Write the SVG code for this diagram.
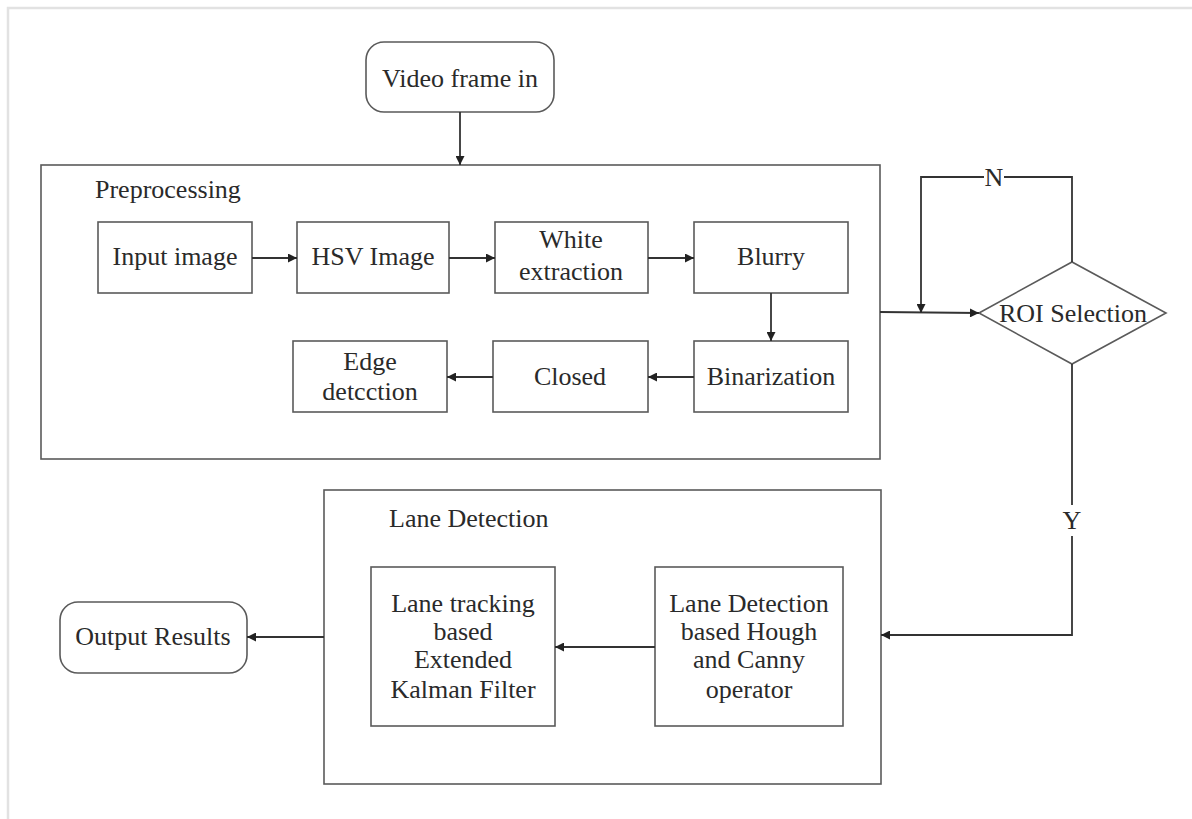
<svg xmlns="http://www.w3.org/2000/svg" width="1192" height="819" viewBox="0 0 1192 819">
<defs>
<style>
.box{fill:#fff;stroke:#5a5a5a;stroke-width:1.6}
.frame{fill:none;stroke:#5a5a5a;stroke-width:1.6}
.t{font-family:'Liberation Serif','DejaVu Serif',serif;font-size:26px;fill:#2a2a2a;text-anchor:middle}
.tl{font-family:'Liberation Serif','DejaVu Serif',serif;font-size:26px;fill:#2a2a2a}
.c{fill:none;stroke:#333;stroke-width:1.8}
</style>
<marker id="ah" viewBox="0 0 10 10" refX="10" refY="5" markerWidth="11" markerHeight="9" markerUnits="userSpaceOnUse" orient="auto">
<path d="M0,0 L10,5 L0,10 z" fill="#222"/>
</marker>
</defs>
<rect x="0" y="0" width="1192" height="819" fill="#fff"/>
<path d="M8,819 V8 H1192" fill="none" stroke="#e2e2e2" stroke-width="2.5"/>

<g id="video-frame-in">
<rect class="box" x="366" y="42" width="188" height="70" rx="18"/>
<text class="t" x="460" y="87">Video frame in</text>
</g>

<g id="preprocessing">
<rect class="frame" x="41" y="165" width="839" height="294"/>
<text class="tl" x="95" y="198">Preprocessing</text>
</g>
<g id="input-image">
<rect class="box" x="98" y="222" width="154" height="71"/>
<text class="t" x="175" y="265">Input image</text>
</g>
<g id="hsv-image">
<rect class="box" x="297" y="222" width="152" height="71"/>
<text class="t" x="373" y="265">HSV Image</text>
</g>
<g id="white-extraction">
<rect class="box" x="495" y="222" width="153" height="71"/>
<text class="t" x="571" y="248">White</text>
<text class="t" x="571" y="280">extraction</text>
</g>
<g id="blurry">
<rect class="box" x="694" y="222" width="154" height="71"/>
<text class="t" x="771" y="265">Blurry</text>
</g>
<g id="binarization">
<rect class="box" x="694" y="341" width="154" height="71"/>
<text class="t" x="771" y="385">Binarization</text>
</g>
<g id="closed">
<rect class="box" x="493" y="341" width="155" height="71"/>
<text class="t" x="570" y="385">Closed</text>
</g>
<g id="edge-detection">
<rect class="box" x="293" y="341" width="154" height="71"/>
<text class="t" x="370" y="370">Edge</text>
<text class="t" x="370" y="400">detcction</text>
</g>

<g id="roi-selection">
<polygon class="box" points="979,313 1072,262 1166,313 1072,364"/>
<text class="t" x="1073" y="322">ROI Selection</text>
</g>

<g id="lane-detection-group">
<rect class="frame" x="324" y="490" width="557" height="294"/>
<text class="tl" x="389" y="527">Lane Detection</text>
</g>
<g id="lane-tracking">
<rect class="box" x="371" y="567" width="184" height="159"/>
<text class="t" x="463" y="612">Lane tracking</text>
<text class="t" x="463" y="640">based</text>
<text class="t" x="463" y="668">Extended</text>
<text class="t" x="463" y="698">Kalman Filter</text>
</g>
<g id="lane-detection-hough">
<rect class="box" x="655" y="567" width="188" height="159"/>
<text class="t" x="749" y="612">Lane Detection</text>
<text class="t" x="749" y="640">based Hough</text>
<text class="t" x="749" y="668">and Canny</text>
<text class="t" x="749" y="698">operator</text>
</g>
<g id="output-results">
<rect class="box" x="60" y="602" width="187" height="71" rx="18"/>
<text class="t" x="153" y="645">Output Results</text>
</g>

<g id="connectors">
<path class="c" d="M460,112 V165" marker-end="url(#ah)"/>
<path class="c" d="M252,258 H297" marker-end="url(#ah)"/>
<path class="c" d="M449,258 H495" marker-end="url(#ah)"/>
<path class="c" d="M648,258 H694" marker-end="url(#ah)"/>
<path class="c" d="M771,293 V341" marker-end="url(#ah)"/>
<path class="c" d="M694,377 H648" marker-end="url(#ah)"/>
<path class="c" d="M493,377 H447" marker-end="url(#ah)"/>
<path class="c" d="M880,312 L979,313" marker-end="url(#ah)"/>
<path class="c" d="M1072,262 V177 H1004 M984,177 H921 V313" marker-end="url(#ah)"/>
<text class="t" x="994" y="186">N</text>
<path class="c" d="M1072,364 V505 M1072,536 V635 H881" marker-end="url(#ah)"/>
<text class="t" x="1072" y="529">Y</text>
<path class="c" d="M655,647 H555" marker-end="url(#ah)"/>
<path class="c" d="M324,637 H247" marker-end="url(#ah)"/>
</g>
</svg>
